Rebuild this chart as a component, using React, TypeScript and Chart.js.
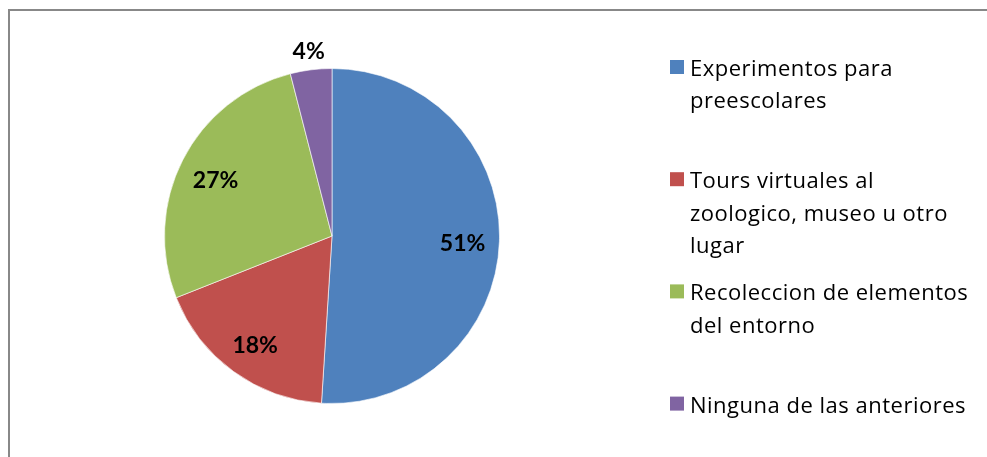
import React, { useEffect, useRef } from "react";
import { Chart, registerables } from "chart.js";

Chart.register(...registerables);

const categories: string[][] = [
  ["Experimentos para", "preescolares"],
  ["Tours virtuales al", "zoologico, museo u otro", "lugar"],
  ["Recoleccion de elementos", "del entorno"],
  ["Ninguna de las anteriores"],
];
const values: number[] = [51, 18, 27, 4];
const sliceColors: string[] = ["#4F81BD", "#C0504D", "#9BBB59", "#8064A2"];

const LABEL_FONT = "Lato, 'Open Sans', 'Liberation Sans', sans-serif";
const LEGEND_FONT = "'Open Sans', Lato, 'Liberation Sans', sans-serif";

const overlayPlugin = {
  id: "overlay",
  afterDraw(chart: any) {
    const ctx = chart.ctx as CanvasRenderingContext2D;
    const meta = chart.getDatasetMeta(0);
    const ds = chart.data.datasets[0].data as number[];
    const total = ds.reduce((a, b) => a + b, 0);
    ctx.save();
    // slice labels
    ctx.font = `bold 23px ${LABEL_FONT}`;
    ctx.fillStyle = "#000";
    ctx.textAlign = "center";
    ctx.textBaseline = "alphabetic";
    meta.data.forEach((arc: any, i: number) => {
      const pct = (ds[i] / total) * 100;
      const mid = (arc.startAngle + arc.endAngle) / 2;
      const outside = pct < 5;
      const f = outside ? 1.11 : 0.78;
      const x = arc.x + Math.cos(mid) * arc.outerRadius * f;
      const y = arc.y + Math.sin(mid) * arc.outerRadius * f;
      ctx.fillText(Math.round(pct) + "%", x, y + (outside ? 7 : 11));
    });
    // legend
    const labels = chart.data.labels as string[][];
    ctx.font = `22px ${LEGEND_FONT}`;
    (ctx as any).letterSpacing = "0.5px";
    ctx.textAlign = "left";
    ctx.textBaseline = "alphabetic";
    const legendX = 670;
    const firstBaseline = 76;
    const slot = 112.2;
    const lineH = 32.3;
    labels.forEach((lines, i) => {
      const base = firstBaseline + i * slot;
      ctx.fillStyle = sliceColors[i];
      ctx.fillRect(legendX, base - 16, 14, 14);
      ctx.fillStyle = "#000";
      lines.forEach((ln, j) => {
        ctx.fillText(ln, legendX + 20, base + j * lineH);
      });
    });
    ctx.restore();
  },
};

export default function App() {
  const ref = useRef<HTMLCanvasElement | null>(null);
  useEffect(() => {
    if (!ref.current) return;
    const chart = new Chart(ref.current, {
      type: "pie",
      data: {
        labels: categories as any,
        datasets: [
          {
            data: values,
            backgroundColor: sliceColors,
            borderColor: "rgba(255,255,255,0.6)",
            borderWidth: 1,
          },
        ],
      },
      options: {
        animation: false,
        responsive: false,
        devicePixelRatio: 1,
        layout: { padding: { left: 164, right: 487, top: 68, bottom: 53 } },
        plugins: {
          legend: { display: false },
          tooltip: { enabled: false },
          title: { display: false },
        },
      },
      plugins: [overlayPlugin],
    });
    return () => chart.destroy();
  }, []);
  return (
    <div
      style={{
        position: "fixed",
        left: 0,
        top: 0,
        width: 987,
        height: 457,
        background: "#fff",
        overflow: "hidden",
      }}
    >
      <div
        style={{
          position: "absolute",
          left: 8,
          top: 9,
          width: 1200,
          height: 800,
          borderTop: "2px solid #888888",
          borderLeft: "2px solid #888888",
        }}
      />
      <canvas
        ref={ref}
        width={987}
        height={457}
        style={{ position: "absolute", left: 0, top: 0, width: 987, height: 457 }}
      />
    </div>
  );
}
